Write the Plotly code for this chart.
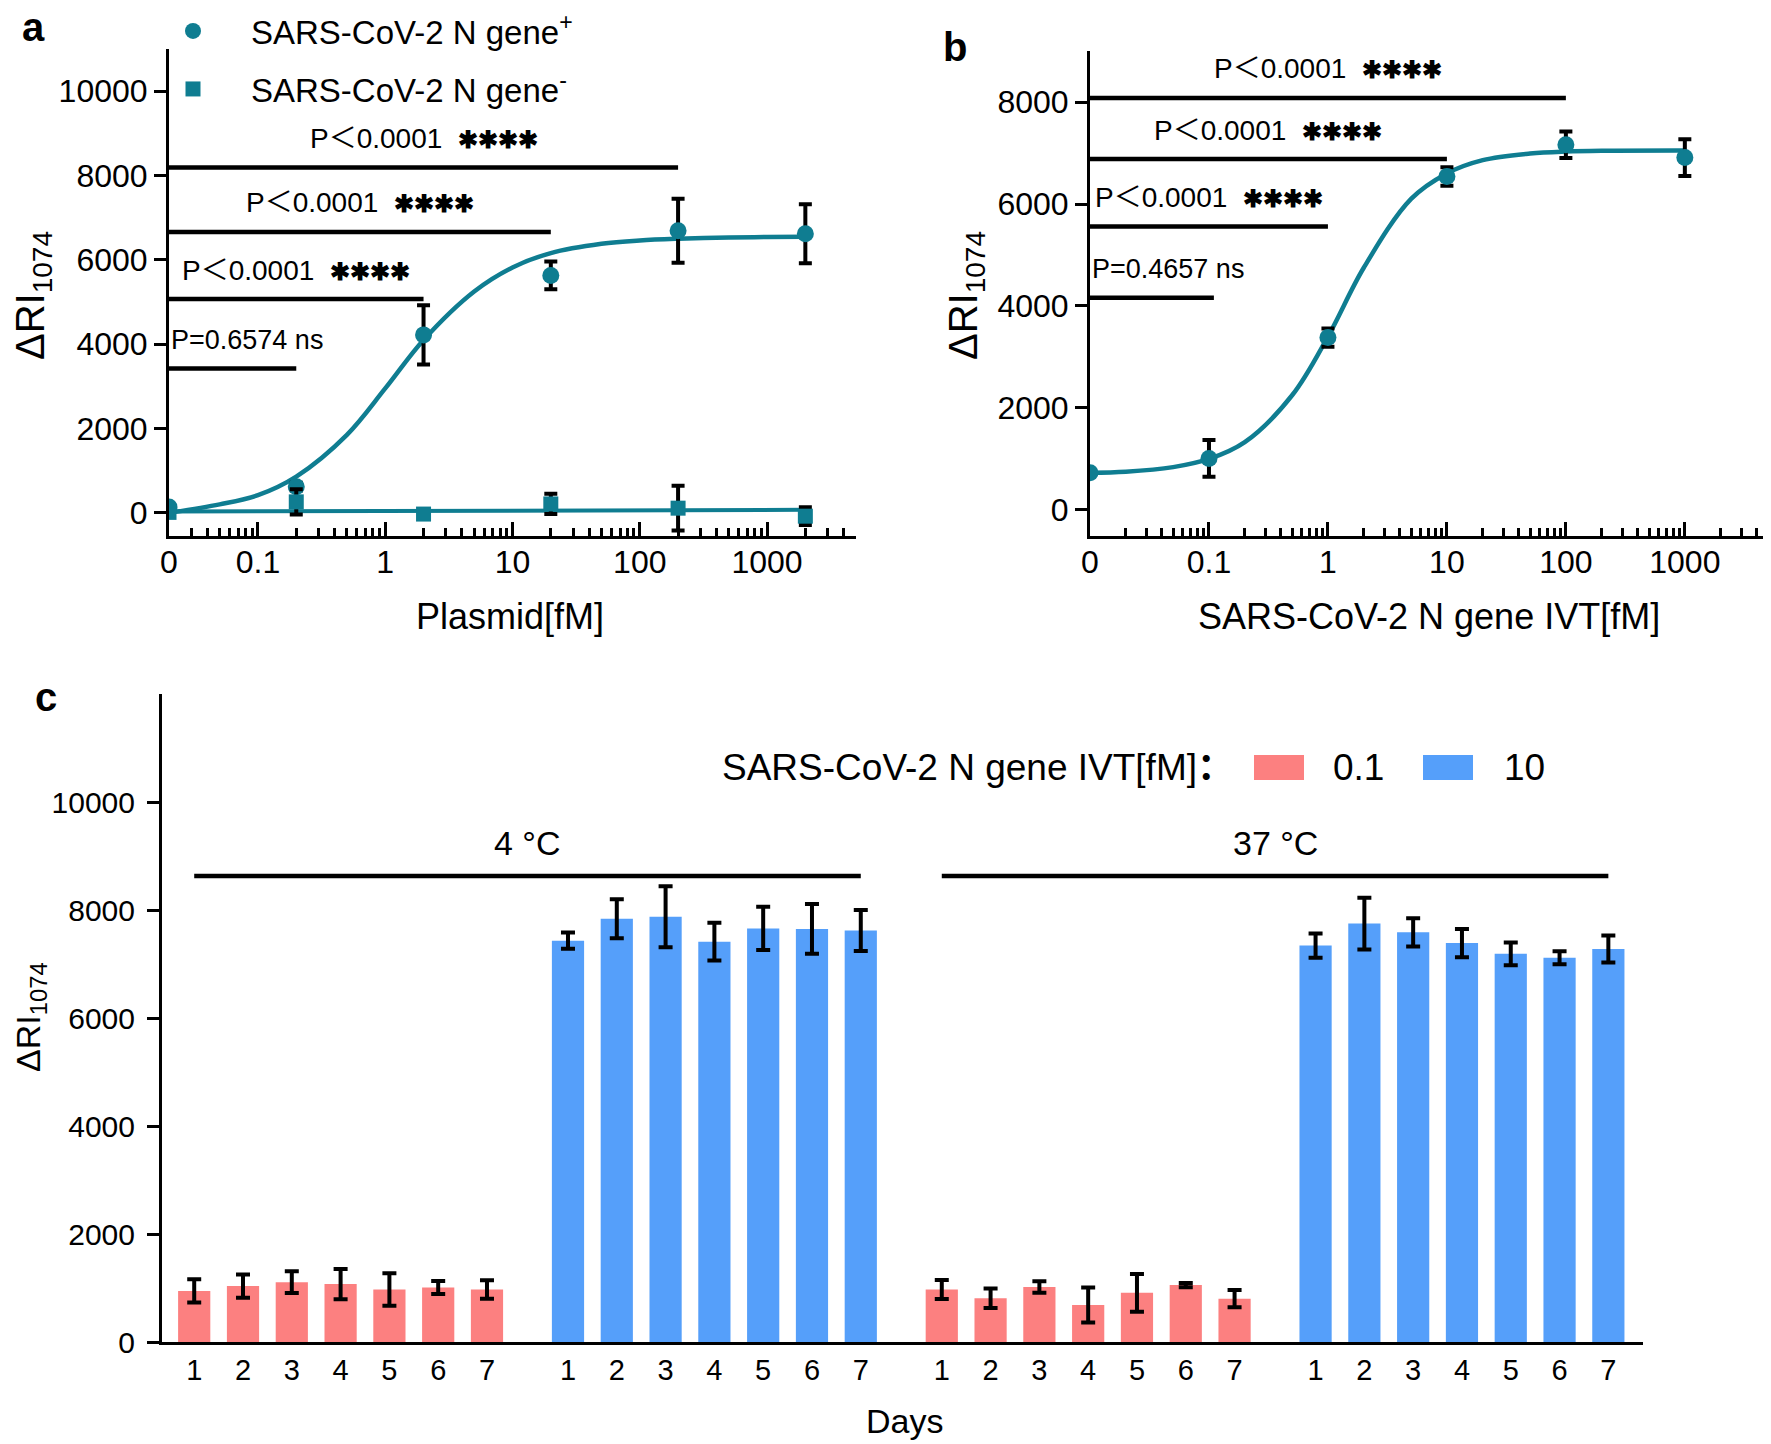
import numpy as np
import plotly.graph_objects as go

# ---- panel a : plasmid titration ----
plasmid_fm = [0, 0.2, 2, 20, 200, 2000]
pos_mean = [140, 620, 4220, 5630, 6690, 6620]
pos_sd = [60, 90, 700, 330, 760, 700]
neg_mean = [10, 260, -30, 210, 110, -80]
neg_sd = [40, 300, 20, 240, 530, 210]
# fitted curves
fit_x_a = [0.02, 0.05, 0.1, 0.2, 0.5, 1, 2, 5, 10, 20, 50, 100, 200, 500, 1000, 2000]
fit_pos_a = [0, 200, 420, 860, 1850, 2950, 4100, 5250, 5820, 6160, 6380, 6460, 6500, 6530, 6540, 6545]
fit_neg_x_a = [0.02, 2000]
fit_neg_a = [30, 70]
sig_a_end = [0.2, 2, 20, 200]
sig_a_y = [3420, 5070, 6660, 8190]
sig_a_text = ["P=0.6574 ns", "P＜0.0001", "P＜0.0001", "P＜0.0001"]

# ---- panel b : IVT titration ----
ivt_fm = [0, 0.1, 1, 10, 100, 1000]
ivt_mean = [730, 1010, 3380, 6540, 7160, 6910]
ivt_sd = [40, 360, 180, 180, 260, 360]
fit_x_b = [0.01, 0.02, 0.05, 0.1, 0.2, 0.5, 1, 2, 5, 10, 20, 50, 100, 200, 1000]
fit_b = [730, 750, 840, 1000, 1330, 2250, 3400, 4750, 6100, 6600, 6860, 6990, 7030, 7045, 7050]
sig_b_end = [0.11, 1, 10, 100]
sig_b_y = [4160, 5560, 6880, 8080]
sig_b_text = ["P=0.4657 ns", "P＜0.0001", "P＜0.0001", "P＜0.0001"]

# ---- panel c : stability over days ----
days = [1, 2, 3, 4, 5, 6, 7]
c4_low = [946, 1036, 1108, 1072, 973, 1009, 973]
c4_low_sd = [215, 215, 200, 280, 300, 120, 170]
c4_high = [7432, 7838, 7874, 7414, 7658, 7649, 7622]
c4_high_sd = [150, 360, 565, 350, 400, 460, 380]
c37_low = [973, 811, 1018, 685, 910, 1054, 802]
c37_low_sd = [175, 180, 105, 325, 350, 40, 160]
c37_high = [7342, 7748, 7586, 7387, 7189, 7117, 7279]
c37_high_sd = [225, 480, 260, 260, 210, 120, 250]
temp_labels = ["4 °C", "37 °C"]
temp_bar_y = 8630
conc_labels = ["0.1", "10"]

# the page body adds an 8px margin, so the figure is that much smaller
OFF = 8
W, H = 1771 - OFF, 1444 - OFF
FONT = "Liberation Sans, Arial, Noto Sans CJK SC, sans-serif"
TEAL = "#0F7D91"
RED = "#FC8080"
BLUE = "#559FFA"
STARS = "<span style='font-size:24px'><b>✱✱✱✱</b></span>"


def px(x):
    return (x - OFF) / W


def py(y):
    return 1 - (y - OFF) / H


fig = go.Figure()

# panel a
zero_a = 0.02
xa = [c if c > 0 else zero_a for c in plasmid_fm]
fig.add_trace(go.Scatter(x=fit_x_a, y=fit_pos_a, mode="lines", line=dict(color=TEAL, width=4.5, shape="spline"),
                         showlegend=False, xaxis="x", yaxis="y"))
fig.add_trace(go.Scatter(x=fit_neg_x_a, y=fit_neg_a, mode="lines", line=dict(color=TEAL, width=4),
                         showlegend=False, xaxis="x", yaxis="y"))
fig.add_trace(go.Scatter(x=xa, y=pos_mean, mode="markers", name="SARS-CoV-2 N gene<sup>+</sup>",
                         marker=dict(symbol="circle", size=17, color=TEAL),
                         error_y=dict(type="data", array=pos_sd, color="black", thickness=4, width=6.5),
                         xaxis="x", yaxis="y", legend="legend"))
fig.add_trace(go.Scatter(x=xa, y=neg_mean, mode="markers", name="SARS-CoV-2 N gene<sup>-</sup>",
                         marker=dict(symbol="square", size=15, color=TEAL),
                         error_y=dict(type="data", array=neg_sd, color="black", thickness=4, width=6.5),
                         xaxis="x", yaxis="y", legend="legend2"))
for end, yv in zip(sig_a_end, sig_a_y):
    fig.add_trace(go.Scatter(x=[zero_a, end], y=[yv, yv], mode="lines", line=dict(color="black", width=4.5),
                             showlegend=False, xaxis="x", yaxis="y"))

# panel b
zero_b = 0.01
xb = [c if c > 0 else zero_b for c in ivt_fm]
fig.add_trace(go.Scatter(x=fit_x_b, y=fit_b, mode="lines", line=dict(color=TEAL, width=4.5, shape="spline"),
                         showlegend=False, xaxis="x2", yaxis="y2"))
fig.add_trace(go.Scatter(x=xb, y=ivt_mean, mode="markers", marker=dict(symbol="circle", size=17, color=TEAL),
                         error_y=dict(type="data", array=ivt_sd, color="black", thickness=4, width=6.5),
                         showlegend=False, xaxis="x2", yaxis="y2"))
for end, yv in zip(sig_b_end, sig_b_y):
    fig.add_trace(go.Scatter(x=[zero_b, end], y=[yv, yv], mode="lines", line=dict(color="black", width=4.5),
                             showlegend=False, xaxis="x2", yaxis="y2"))

# panel c
group_step = 7.66
groups = [(c4_low, c4_low_sd, RED), (c4_high, c4_high_sd, BLUE),
          (c37_low, c37_low_sd, RED), (c37_high, c37_high_sd, BLUE)]
tick_pos, tick_txt = [], []
for g, (vals, sd, col) in enumerate(groups):
    xs = [g * group_step + d - 1 for d in days]
    tick_pos += xs
    tick_txt += [str(d) for d in days]
    fig.add_trace(go.Bar(x=xs, y=vals, width=0.66, marker=dict(color=col, line=dict(width=0)),
                         error_y=dict(type="data", array=sd, color="black", thickness=4, width=7),
                         showlegend=False, xaxis="x3", yaxis="y3"))
for t in range(2):
    x0 = 2 * t * group_step
    x1 = (2 * t + 1) * group_step + days[-1] - 1
    fig.add_trace(go.Scatter(x=[x0, x1], y=[temp_bar_y, temp_bar_y], mode="lines",
                             line=dict(color="black", width=4.5), showlegend=False, xaxis="x3", yaxis="y3"))

annotations = []


def sig_notes(ends, ys, texts, zero, xref, yref):
    for end, yv, txt in zip(ends, ys, texts):
        if "ns" in txt:
            annotations.append(dict(x=np.log10(zero), y=yv, xref=xref, yref=yref, text=txt, showarrow=False,
                                    xanchor="left", yanchor="middle", yshift=29, font=dict(size=27)))
        else:
            mid = (np.log10(zero) + np.log10(end)) / 2
            annotations.append(dict(x=mid, y=yv, xref=xref, yref=yref, text=txt + "  " + STARS, showarrow=False,
                                    xanchor="center", yanchor="middle", yshift=29, font=dict(size=28)))


sig_notes(sig_a_end, sig_a_y, sig_a_text, zero_a, "x", "y")
sig_notes(sig_b_end, sig_b_y, sig_b_text, zero_b, "x2", "y2")

for t, lab in enumerate(temp_labels):
    x0 = 2 * t * group_step
    x1 = (2 * t + 1) * group_step + days[-1] - 1
    annotations.append(dict(x=(x0 + x1) / 2, y=temp_bar_y, xref="x3", yref="y3", text=lab, showarrow=False,
                            xanchor="center", yanchor="middle", yshift=33, font=dict(size=34)))

# axis titles and panel letters (paper coordinates from pixel positions)
ytitle = "ΔRI<sub>1074</sub>"
paper_notes = [
    dict(x=px(33), y=py(296), text=ytitle, textangle=-90, font=dict(size=40)),
    dict(x=px(966), y=py(296), text=ytitle, textangle=-90, font=dict(size=40)),
    dict(x=px(30), y=py(1017), text=ytitle, textangle=-90, font=dict(size=34)),
    dict(x=px(510), y=py(616), text="Plasmid[fM]", font=dict(size=36)),
    dict(x=px(1429), y=py(616), text="SARS-CoV-2 N gene IVT[fM]", font=dict(size=36)),
    dict(x=px(904), y=py(1421), text="Days", font=dict(size=34)),
    dict(x=px(33), y=py(27), text="<b>a</b>", font=dict(size=40)),
    dict(x=px(955), y=py(47), text="<b>b</b>", font=dict(size=40)),
    dict(x=px(46), y=py(697), text="<b>c</b>", font=dict(size=40)),
    dict(x=px(1236), y=py(767), text="SARS-CoV-2 N gene IVT[fM]<b>：</b>", xanchor="right", font=dict(size=37)),
    dict(x=px(1358), y=py(767), text=conc_labels[0], font=dict(size=37)),
    dict(x=px(1524), y=py(767), text=conc_labels[1], font=dict(size=37)),
]
for a in paper_notes:
    a.setdefault("xanchor", "center")
    a.update(xref="paper", yref="paper", showarrow=False, yanchor="middle")
annotations += paper_notes

shapes = [
    dict(type="rect", xref="paper", yref="paper", x0=px(1254), x1=px(1304), y0=py(780), y1=py(755),
         fillcolor=RED, line=dict(width=0)),
    dict(type="rect", xref="paper", yref="paper", x0=px(1423), x1=px(1473), y0=py(780), y1=py(755),
         fillcolor=BLUE, line=dict(width=0)),
]


def minor_vals(lo, hi):
    out = []
    dec = lo
    while dec < hi:
        out += [dec * k for k in range(2, 10) if dec * k <= hi * 1.0001]
        dec *= 10
    return out


log_axis = dict(type="log", showline=True, linewidth=3, linecolor="black", showgrid=False, zeroline=False,
                ticks="inside", ticklen=14, tickwidth=3, tickcolor="black",
                tickfont=dict(size=32), ticklabelstandoff=-4)
lin_axis = dict(showline=True, linewidth=3, linecolor="black", showgrid=False, zeroline=False,
                ticks="outside", ticklen=12, tickwidth=3, tickcolor="black", tickfont=dict(size=32),
                tickformat="d")

fig.update_layout(
    width=W, height=H, margin=dict(l=0, r=0, t=0, b=0, autoexpand=False),
    plot_bgcolor="white", paper_bgcolor="white",
    font=dict(family=FONT, color="black"),
    barmode="overlay",
    xaxis=dict(log_axis, domain=[px(169), px(856)], range=[np.log10(zero_a), np.log10(5000)], anchor="y",
               tickvals=[zero_a, 0.1, 1, 10, 100, 1000], ticktext=["0", "0.1", "1", "10", "100", "1000"],
               minor=dict(tickvals=minor_vals(0.01, 5000)[1:], ticks="inside", ticklen=8, tickwidth=2.5,
                          tickcolor="black")),
    yaxis=dict(lin_axis, domain=[py(536), py(49)], range=[-550, 11000], anchor="x",
               tickvals=[0, 2000, 4000, 6000, 8000, 10000]),
    xaxis2=dict(log_axis, domain=[px(1090), px(1768)], range=[np.log10(zero_b), np.log10(5000)], anchor="y2",
                tickvals=[zero_b, 0.1, 1, 10, 100, 1000], ticktext=["0", "0.1", "1", "10", "100", "1000"],
                minor=dict(tickvals=minor_vals(0.01, 5000), ticks="inside", ticklen=8, tickwidth=2.5,
                           tickcolor="black")),
    yaxis2=dict(lin_axis, domain=[py(536), py(51)], range=[-510, 9000], anchor="x2",
                tickvals=[0, 2000, 4000, 6000, 8000]),
    xaxis3=dict(showline=True, linewidth=3, linecolor="black", showgrid=False, zeroline=False,
                domain=[px(162), px(1643)], range=[-0.66, 29.69], anchor="y3",
                tickvals=tick_pos, ticktext=tick_txt, ticks="", tickfont=dict(size=29), ticklabelstandoff=0),
    yaxis3=dict(lin_axis, domain=[py(1342), py(694)], range=[0, 12000], anchor="x3",
                tickvals=[0, 2000, 4000, 6000, 8000, 10000], tickfont=dict(size=30), ticklabelstandoff=6),
    legend=dict(x=px(135), y=py(31), xanchor="left", yanchor="middle", itemwidth=106,
                font=dict(size=33), bgcolor="rgba(0,0,0,0)"),
    legend2=dict(x=px(135), y=py(89), xanchor="left", yanchor="middle", itemwidth=106,
                 font=dict(size=33), bgcolor="rgba(0,0,0,0)"),
    annotations=annotations,
    shapes=shapes,
)

fig.write_html("out.html")
